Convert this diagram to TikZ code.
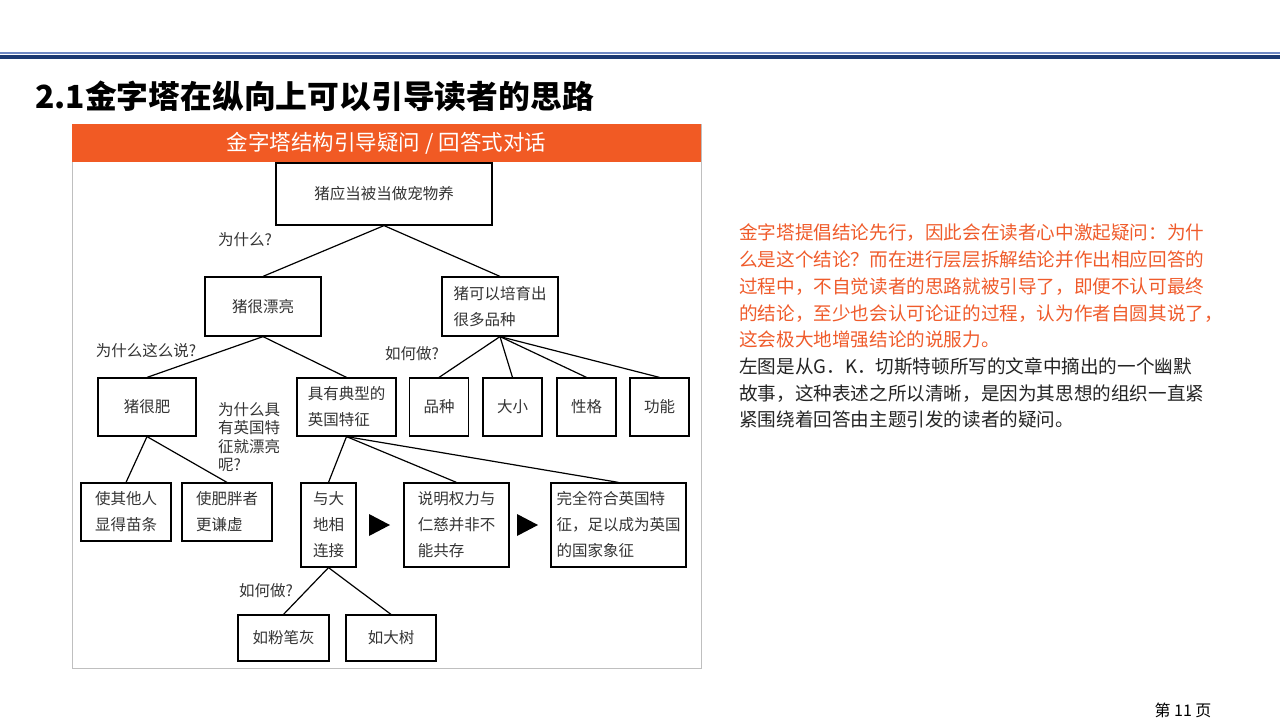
\documentclass[tikz,border=0pt]{standalone}
\usepackage{fontspec}
\setmainfont{Noto Sans CJK SC}
\usetikzlibrary{positioning}
\definecolor{slideorange}{HTML}{F15A24}
\definecolor{textorange}{HTML}{EF5B2B}
\definecolor{rulenavy}{HTML}{1B3870}
\definecolor{ruleblue}{HTML}{6F88C2}
\definecolor{inkgray}{HTML}{333333}

\begin{document}
\begin{tikzpicture}[x=1pt, y=-1pt,
    box/.style={draw, line width=1.2pt, inner sep=3pt, align=center, text=inkgray, font=\fontsize{15.5}{26}\selectfont},
    wh/.style 2 args={minimum width=#1pt, minimum height=#2pt},
    ask/.style={text=inkgray, font=\fontsize{15.5}{18.5}\selectfont, inner sep=0pt},
    link/.style={line width=1.2pt},
]
\useasboundingbox (0,0) rectangle (1280,720);
% top rule and title
\draw[ruleblue, line width=1.2pt] (0,53) -- (1280,53);
\fill[rulenavy] (0,55) rectangle (1280,59);
\node[anchor=west, inner sep=0pt, font=\fontsize{31.8}{36}\selectfont\bfseries] (title) at (35,96) {2.1金字塔在纵向上可以引导读者的思路};

% panel
\node[draw=gray!50, line width=0.8pt, wh={629}{544}] (panel) at (386.5,396) {};
\node[fill=slideorange, wh={629}{38}, text=white, font=\fontsize{21.5}{24}\selectfont] (hdr) at (386.5,143) {金字塔结构引导疑问 / 回答式对话};

% tree
\node[box, wh={216}{62}] (root) at (384,194) {猪应当被当做宠物养};
\node[box, wh={116}{59}] (pretty) at (263,306.5) {猪很漂亮};
\node[box, wh={116}{59}, align=left] (breed) at (500,306.5) {猪可以培育出\\很多品种};
\node[box, wh={98}{58}] (fat) at (147,407) {猪很肥};
\node[box, wh={99}{58}, align=left] (brit) at (346.5,407) {具有典型的\\英国特征};
\foreach \t/\x [count=\i] in {品种/439, 大小/512.5, 性格/586.5, 功能/659.5}
    \node[box, wh={59}{58}] (k\i) at (\x,407) {\t};
\node[box, wh={90}{58}, align=left] (slim) at (126,512) {使其他人\\显得苗条};
\node[box, wh={90}{58}, align=left] (humble) at (227,512) {使肥胖者\\更谦虚};
\node[box, wh={55}{84}] (earth) at (328.5,525) {与大\\地相\\连接};
\node[box, wh={105}{84}, align=left] (power) at (456.5,525) {说明权力与\\仁慈并非不\\能共存};
\node[box, wh={135}{84}, align=left, inner xsep=2pt] (symbol) at (618.5,525) {完全符合英国特\\征，足以成为英国\\的国家象征};
\node[box, wh={91}{46}] (chalk) at (283.5,638) {如粉笔灰};
\node[box, wh={90}{46}] (tree) at (391,638) {如大树};

% questions
\node[ask] (q1) at (245,240) {为什么?};
\node[ask] (q2) at (146,351) {为什么这么说?};
\node[ask] (q3) at (412,354) {如何做?};
\node[ask, anchor=north west, align=left] (q4) at (218,402) {为什么具\\有英国特\\征就漂亮\\呢?};
\node[ask] (q5) at (266,591) {如何做?};

% links
\draw[link] (root.south) -- (pretty.north);
\draw[link] (root.south) -- (breed.north);
\draw[link] (pretty.south) -- (fat.north);
\draw[link] (pretty.south) -- (brit.north);
\foreach \i in {1,...,4}
    \draw[link] (breed.south) -- (k\i.north);
\draw[link] (fat.south) -- (slim.north);
\draw[link] (fat.south) -- (humble.north);
\draw[link] (brit.south) -- (earth.north);
\draw[link] (brit.south) -- (power.north);
\draw[link] (brit.south) -- (symbol.north);
\draw[link] (earth.south) -- (chalk.north);
\draw[link] (earth.south) -- (tree.north);

% arrows between the chain
\path (earth.east) -- (power.west) coordinate[midway] (m1);
\path (power.east) -- (symbol.west) coordinate[midway] (m2);
\fill (m1) ++(-11,-11) -- ++(21,11) -- ++(-21,11) -- cycle;
\fill (m2) ++(-13,-11) -- ++(21,11) -- ++(-21,11) -- cycle;

% note on the right
\node[anchor=north west, align=left, inner sep=0pt, font=\fontsize{18.6}{26.7}\selectfont] (note) at (739,224) {%
\textcolor{textorange}{金字塔提倡结论先行，因此会在读者心中激起疑问：为什}\\
\textcolor{textorange}{么是这个结论？而在进行层层拆解结论并作出相应回答的}\\
\textcolor{textorange}{过程中，不自觉读者的思路就被引导了，即便不认可最终}\\
\textcolor{textorange}{的结论，至少也会认可论证的过程，认为作者自圆其说了，}\\
\textcolor{textorange}{这会极大地增强结论的说服力。}\\
\textcolor{inkgray!70!black}{左图是从G．K．切斯特顿所写的文章中摘出的一个幽默}\\
\textcolor{inkgray!70!black}{故事，这种表述之所以清晰，是因为其思想的组织一直紧}\\
\textcolor{inkgray!70!black}{紧围绕着回答由主题引发的读者的疑问。}};

\node[font=\fontsize{16}{20}\selectfont] (pg) at (1183,710) {第 11 页};
\end{tikzpicture}
\end{document}
